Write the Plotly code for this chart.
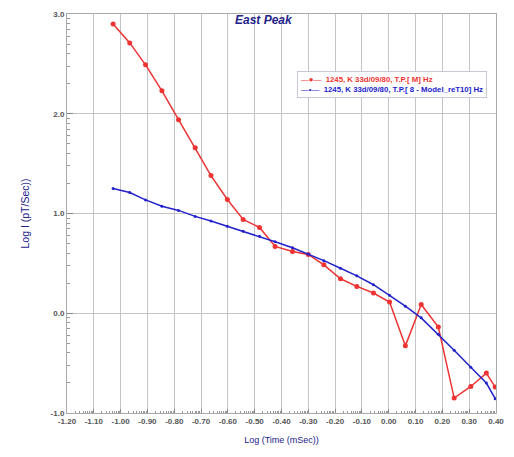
import plotly.graph_objects as go
import numpy as np

# Measured (red) series
red_x = [-1.028, -0.966, -0.907, -0.846, -0.784, -0.722, -0.663, -0.602, -0.543, -0.482,
         -0.424, -0.359, -0.300, -0.242, -0.180, -0.119, -0.057, 0.003, 0.062, 0.121,
         0.185, 0.244, 0.306, 0.364, 0.397]
red_y = [2.90, 2.71, 2.49, 2.23, 1.94, 1.66, 1.38, 1.14, 0.94, 0.86,
         0.67, 0.62, 0.59, 0.485, 0.346, 0.269, 0.203, 0.113, -0.327, 0.087,
         -0.138, -0.85, -0.734, -0.60, -0.74]

# Model (blue) series
blue_x = [-1.028, -0.966, -0.907, -0.846, -0.784, -0.722, -0.663, -0.602, -0.543, -0.482,
          -0.424, -0.359, -0.300, -0.242, -0.180, -0.119, -0.057, 0.003, 0.062, 0.121,
          0.185, 0.244, 0.306, 0.364, 0.397]
blue_y = [1.25, 1.21, 1.136, 1.073, 1.031, 0.971, 0.925, 0.872, 0.822, 0.773,
          0.716, 0.656, 0.594, 0.527, 0.451, 0.375, 0.286, 0.18, 0.071, -0.046,
          -0.21, -0.37, -0.542, -0.70, -0.856]

names = ["1245, K 33d/09/80, T.P.[ M] Hz",
         "1245, K 33d/09/80, T.P.[ 8 - Model_reT10] Hz"]

x_ticks = [round(-1.2 + 0.1 * i, 2) for i in range(17)]
x_labels = ["<b>%.2f</b>" % v for v in x_ticks]
y_ticks = [-1.0, 0.0, 1.0, 2.0, 3.0]
y_labels = ["<b>%.1f</b>" % v for v in y_ticks]

y_minor = [d + np.log10(k) for d in range(-1, 3) for k in range(2, 10)]
x_minor = [a + 0.1 * np.log10(k) for a in x_ticks[:-1] for k in range(2, 10)]

RED = "#ee3333"
BLUE = "#2222cc"
NAVY = "#22228a"

fig = go.Figure()
fig.add_trace(go.Scatter(
    x=red_x, y=red_y, mode="lines+markers", name=names[0],
    line=dict(color=RED, width=1.5),
    marker=dict(color=RED, size=5, symbol="circle"),
))
fig.add_trace(go.Scatter(
    x=blue_x, y=blue_y, mode="lines+markers", name=names[1],
    line=dict(color=BLUE, width=1.5),
    marker=dict(color=BLUE, size=3, symbol="circle"),
))

legend_text = "<br>".join([
    "<span style='color:%s'>—●—  <b>%s</b></span>" % (RED, names[0]),
    "<span style='color:%s'>—•—  <b>%s</b></span>" % (BLUE, names[1]),
])

fig.update_layout(
    width=514, height=457,
    margin=dict(l=67, r=16, t=10, b=44),
    paper_bgcolor="white", plot_bgcolor="white",
    font=dict(family="Liberation Sans, Arial, sans-serif", size=8, color="#555555"),
    showlegend=False,
    annotations=[
        dict(text="<b><i>East Peak</i></b>", xref="paper", yref="paper",
             x=0.459, y=0.985, xanchor="center", yanchor="middle", showarrow=False,
             font=dict(size=12, color=NAVY)),
        dict(text=legend_text, xref="paper", yref="paper",
             x=0.536, y=0.857, xanchor="left", yanchor="top", showarrow=False,
             align="left", bgcolor="white", bordercolor="#c8c8d8", borderwidth=1,
             borderpad=3, font=dict(size=7.8)),
    ],
)

fig.update_xaxes(
    range=[-1.2, 0.4], tickvals=x_ticks, ticktext=x_labels,
    tickfont=dict(size=8, color="#555555"),
    showgrid=True, gridcolor="#c4c4c4", gridwidth=1,
    showline=True, linecolor="#aaaaaa", linewidth=1, mirror=True,
    ticks="inside", ticklen=4, tickcolor="#888888", zeroline=False,
    minor=dict(tickvals=x_minor, ticks="inside", ticklen=2, tickcolor="#999999", showgrid=False),
    title=dict(text="Log (Time (mSec))", font=dict(size=9, color=NAVY), standoff=12),
)
fig.update_yaxes(
    range=[-1.0, 3.0], tickvals=y_ticks, ticktext=y_labels,
    tickfont=dict(size=8, color="#555555"),
    showgrid=True, gridcolor="#c4c4c4", gridwidth=1,
    showline=True, linecolor="#aaaaaa", linewidth=1, mirror=True,
    ticks="inside", ticklen=6, tickcolor="#888888", zeroline=False,
    minor=dict(tickvals=y_minor, ticks="inside", ticklen=3, tickcolor="#999999", showgrid=False),
    title=dict(text="Log I (pT/Sec))", font=dict(size=10.5, color=NAVY), standoff=18),
)

fig.write_html("out.html", config={"displayModeBar": False},
               post_script="document.body.style.margin='0';")
